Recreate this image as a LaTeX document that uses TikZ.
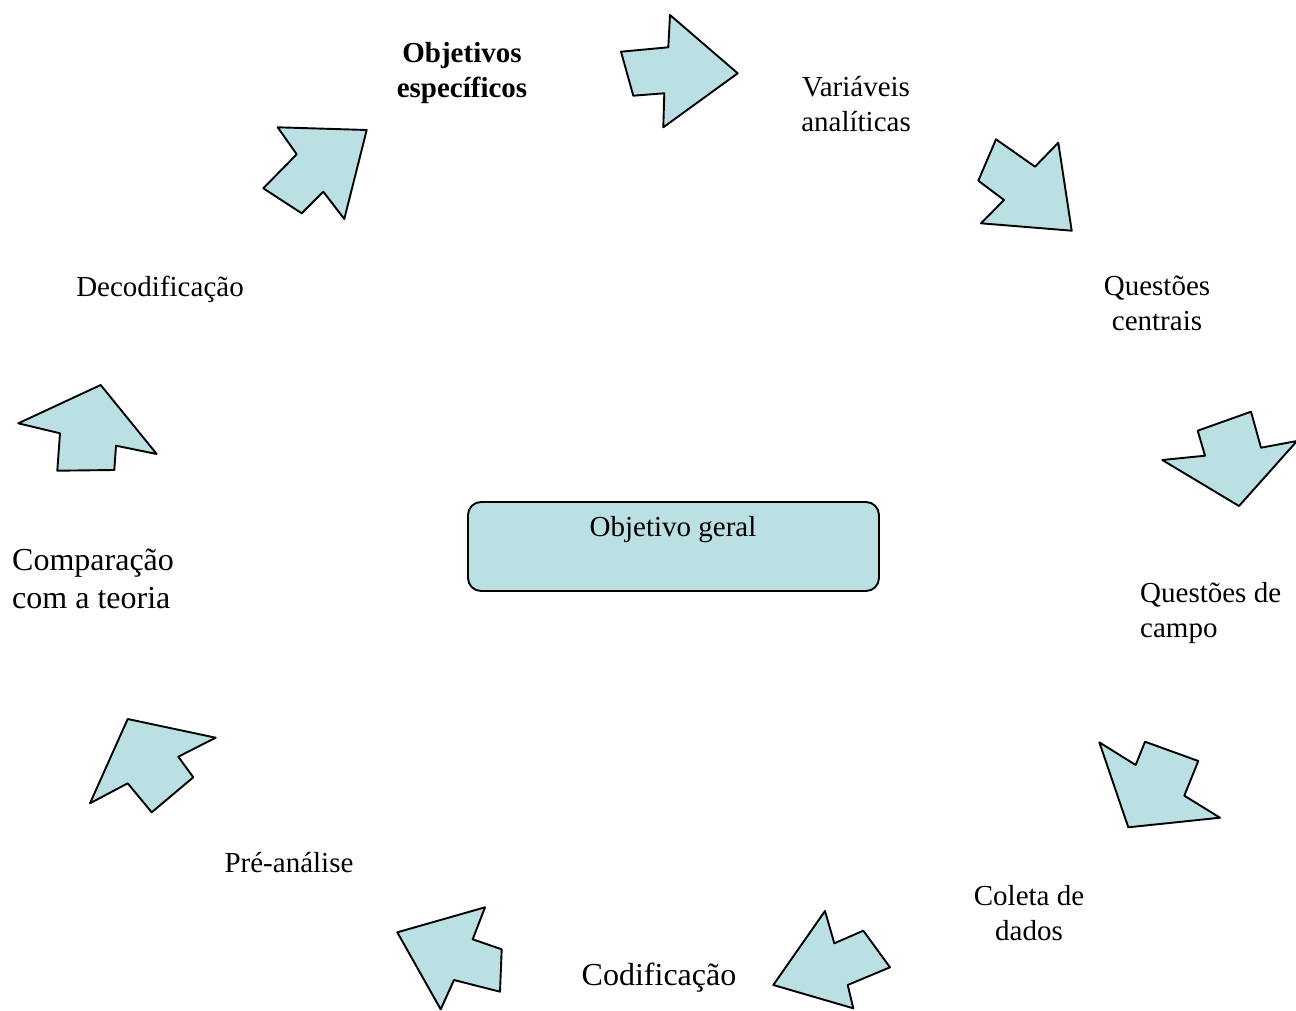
\documentclass[tikz,border=0pt]{standalone}
\usepackage{fontspec}
\setmainfont{Liberation Serif}
\definecolor{arrfill}{RGB}{187,224,227}
\begin{document}
\begin{tikzpicture}[x=1pt,y=-1pt,
  blockarrow/.style={draw=black,fill=arrfill,line width=1.9pt,line join=round},
  lbl/.style={inner sep=0pt,align=center,font=\fontsize{29}{35}\selectfont},
  biglbl/.style={inner sep=0pt,align=left,font=\fontsize{32}{38}\selectfont},
  goalbox/.style={draw=black,fill=arrfill,line width=1.9pt,rounded corners=13pt}]
\useasboundingbox (0,0) rectangle (1296,1011);
% center box
\draw[goalbox] (468,502) rectangle (879,591);
\node[lbl] (geral) at (673,530) {Objetivo geral};
% labels
\node[lbl,font=\fontsize{29}{35}\selectfont\bfseries] (espec) at (462,73.5) {Objetivos\\específicos};
\node[lbl] (variav) at (856,104) {Variáveis\\analíticas};
\node[lbl] (qcentr) at (1157,303.5) {Questões\\centrais};
\node[lbl,anchor=west,align=left] (qcampo) at (1140,613.5) {Questões de\\campo};
\node[lbl] (coleta) at (1029,913.5) {Coleta de\\dados};
\node[lbl,font=\fontsize{32}{38}\selectfont] (codif) at (659,978) {Codificação};
\node[lbl] (prean) at (289,863) {Pré-análise};
\node[biglbl,anchor=west] (compar) at (12,579) {Comparação\\com a teoria};
\node[lbl] (decod) at (160,289) {Decodificação};
% block arrows
\draw[blockarrow] (621,51.7) -- (668.3,47.3) -- (670,15) -- (737.7,73.3) -- (663.3,127.3) -- (664.3,93.3) -- (633.3,95.7) -- cycle;
\draw[blockarrow] (277.7,127.3) -- (366.7,130) -- (344.3,219) -- (323.3,191.7) -- (301.7,213.3) -- (263.3,188.3) -- (296.7,154.3) -- cycle;
\draw[blockarrow] (996,139.3) -- (1035,166.7) -- (1058.3,142.7) -- (1071.7,230.7) -- (981,223.3) -- (1004,200) -- (978.3,180.7) -- cycle;
\draw[blockarrow] (1197.7,430.7) -- (1251,411.7) -- (1261,447.7) -- (1297,441) -- (1239,506) -- (1162.3,460) -- (1205,455.7) -- cycle;
\draw[blockarrow] (1099.3,742.3) -- (1135.7,765) -- (1145,741.7) -- (1198.3,761) -- (1184.3,795.7) -- (1220,817.7) -- (1128.3,827.3) -- cycle;
\draw[blockarrow] (825,911) -- (834.3,943.3) -- (863.3,930.7) -- (890,967.3) -- (847.7,985) -- (853.3,1008.3) -- (773.3,985) -- cycle;
\draw[blockarrow] (397.3,932.3) -- (485,907.3) -- (472.7,939.3) -- (501.7,949.3) -- (500,991.7) -- (454,980) -- (440.7,1009.3) -- cycle;
\draw[blockarrow] (127.7,719) -- (215.7,737.7) -- (178.3,756.7) -- (193.3,777.3) -- (151.7,812.3) -- (127.7,783.3) -- (90,803.3) -- cycle;
\draw[blockarrow] (100.7,385) -- (156.7,454) -- (116,445.7) -- (114.3,470) -- (57.3,470.7) -- (60,433.3) -- (18.3,423.3) -- cycle;
\end{tikzpicture}
\end{document}
